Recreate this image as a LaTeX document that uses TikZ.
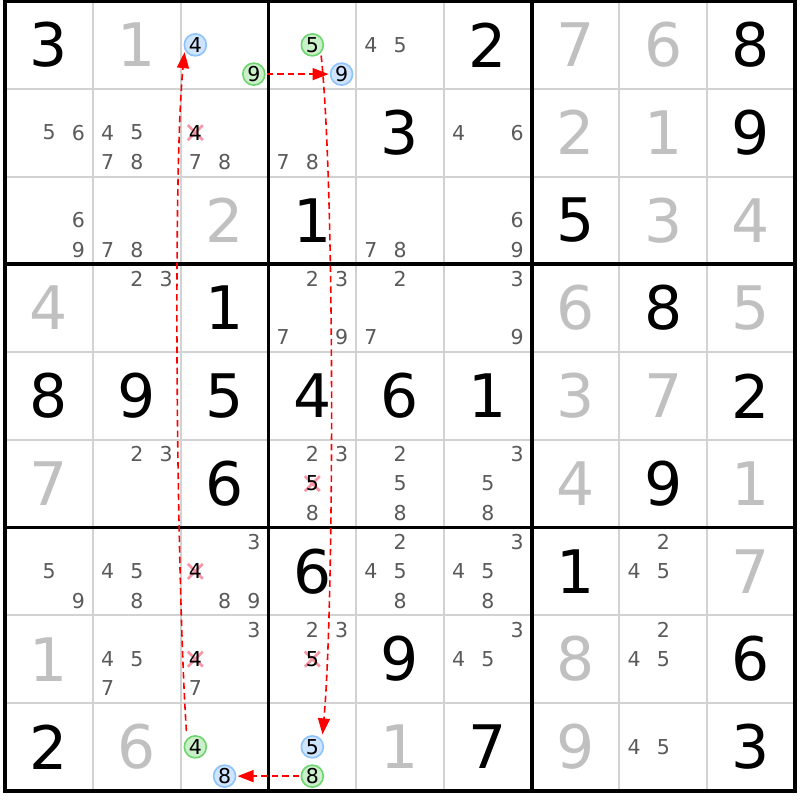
\documentclass[tikz,border=0pt]{standalone}
\usepackage{fontspec}
\setmainfont{DejaVu Sans}
\usetikzlibrary{arrows.meta,calc}
\definecolor{solvedgray}{RGB}{192,192,192}
\definecolor{candgray}{RGB}{90,90,90}
\definecolor{thingrid}{RGB}{210,210,210}
\definecolor{xpink}{RGB}{248,150,165}
\definecolor{bluefill}{RGB}{206,228,255}
\definecolor{bluedraw}{RGB}{140,195,250}
\definecolor{greenfill}{RGB}{202,240,202}
\definecolor{greendraw}{RGB}{110,212,110}
\tikzset{
  given/.style={inner sep=0pt, font=\fontsize{60}{60}\selectfont, text=black},
  solved/.style={inner sep=0pt, font=\fontsize{60}{60}\selectfont, text=solvedgray},
  cand/.style={inner sep=0pt, font=\fontsize{20.5}{20.5}\selectfont, text=candgray},
  elim/.style={inner sep=0pt, font=\fontsize{20.5}{20.5}\selectfont, text=black},
  circb/.style={circle, minimum size=22pt, inner sep=0pt, outer sep=2pt, line width=1.6pt, draw=bluedraw, fill=bluefill, font=\fontsize{20.5}{20.5}\selectfont, text=black},
  circg/.style={circle, minimum size=22pt, inner sep=0pt, outer sep=2pt, line width=1.6pt, draw=greendraw, fill=greenfill, font=\fontsize{20.5}{20.5}\selectfont, text=black},
  link/.style={red, line width=1.6pt, dash pattern=on 6.5pt off 4pt, -{Triangle[length=16pt,width=12pt]}},
  crossmark/.style={xpink, line width=2.6pt}
}
\begin{document}
\begin{tikzpicture}[x=1pt,y=-1pt]
\def\X{5.2}\def\Y{1}\def\S{87.75}
\path[use as bounding box, fill=white] (0,0) rectangle (800,800);
% thin grid
\foreach \i in {1,2,4,5,7,8}{
  \draw[thingrid, line width=2pt] ({\X+\i*\S},{\Y}) -- ({\X+\i*\S},{\Y+9*\S});
  \draw[thingrid, line width=2pt] ({\X},{\Y+\i*\S}) -- ({\X+9*\S},{\Y+\i*\S});
}
% thick grid
\foreach \i in {0,3,6,9}{
  \draw[black, line width=3.8pt] ({\X+\i*\S},{\Y-2}) -- ({\X+\i*\S},{\Y+9*\S+2});
  \draw[black, line width=3.8pt] ({\X-2},{\Y+\i*\S}) -- ({\X+9*\S+2},{\Y+\i*\S});
}
% given digits
\foreach \r/\c/\d in {0/0/3,0/5/2,0/8/8,1/4/3,1/8/9,2/3/1,2/6/5,3/2/1,3/7/8,
  4/0/8,4/1/9,4/2/5,4/3/4,4/4/6,4/5/1,4/8/2,5/2/6,5/7/9,6/3/6,6/6/1,7/4/9,7/8/6,
  8/0/2,8/5/7,8/8/3}{
  \node[given] (g-\r-\c) at ({\X+(\c+0.5)*\S},{\Y+(\r+0.5)*\S}) {\d};
}
% solved digits
\foreach \r/\c/\d in {0/1/1,0/6/7,0/7/6,1/6/2,1/7/1,2/2/2,2/7/3,2/8/4,3/0/4,3/6/6,3/8/5,
  4/6/3,4/7/7,5/0/7,5/6/4,5/8/1,6/8/7,7/0/1,7/6/8,8/1/6,8/4/1,8/6/9}{
  \node[solved] (s-\r-\c) at ({\X+(\c+0.5)*\S},{\Y+(\r+0.5)*\S}) {\d};
}
% candidates
\foreach \r/\c/\ds in {0/4/{4,5},1/0/{5,6},1/1/{4,5,7,8},1/2/{7,8},1/3/{7,8},1/5/{4,6},
  2/0/{6,9},2/1/{7,8},2/4/{7,8},2/5/{6,9},3/1/{2,3},3/3/{2,3,7,9},3/4/{2,7},3/5/{3,9},
  5/1/{2,3},5/3/{2,3,8},5/4/{2,5,8},5/5/{3,5,8},6/0/{5,9},6/1/{4,5,8},6/2/{3,8,9},
  6/4/{2,4,5,8},6/5/{3,4,5,8},6/7/{2,4,5},7/1/{4,5,7},7/2/{3,7},7/3/{2,3},7/5/{3,4,5},
  7/7/{2,4,5},8/7/{4,5}}{
  \foreach \k in \ds {
    \pgfmathtruncatemacro\kr{div(\k-1,3)}
    \pgfmathtruncatemacro\kc{mod(\k-1,3)}
    \node[cand] (c-\r-\c-\k) at ({\X+\c*\S+(2*\kc+1)*\S/6},{\Y+\r*\S+(2*\kr+1)*\S/6}) {\k};
  }
}
% eliminated candidates
\foreach \r/\c/\k in {1/2/4,5/3/5,6/2/4,7/2/4,7/3/5}{
  \pgfmathtruncatemacro\kr{div(\k-1,3)}
  \pgfmathtruncatemacro\kc{mod(\k-1,3)}
  \coordinate (e-\r-\c) at ({\X+\c*\S+(2*\kc+1)*\S/6},{\Y+\r*\S+(2*\kr+1)*\S/6});
  \draw[crossmark] ($(e-\r-\c)+(-7.5,-7.5)$) -- ($(e-\r-\c)+(7.5,7.5)$);
  \draw[crossmark] ($(e-\r-\c)+(-7.5,7.5)$) -- ($(e-\r-\c)+(7.5,-7.5)$);
  \node[elim] (x-\r-\c-\k) at (e-\r-\c) {\k};
}
% circled candidates
\foreach \r/\c/\k/\st in {0/2/4/circb,0/2/9/circg,0/3/5/circg,0/3/9/circb,
  8/2/4/circg,8/2/8/circb,8/3/5/circb,8/3/8/circg}{
  \pgfmathtruncatemacro\kr{div(\k-1,3)}
  \pgfmathtruncatemacro\kc{mod(\k-1,3)}
  \node[\st] (o-\r-\c-\k) at ({\X+\c*\S+(2*\kc+1)*\S/6},{\Y+\r*\S+(2*\kr+1)*\S/6}) {\k};
}
% links
\draw[link, shorten <=6pt] (o-8-2-4.131) .. controls +(-10,-150) and +(-12,120) .. (o-0-2-4.214);
\draw[link] (o-0-2-9.east) -- (o-0-3-9.west);
\draw[link, shorten <=1pt, shorten >=4pt] (o-0-3-5.-48) .. controls +(14,130) and +(12,-130) .. (o-8-3-5.41);
\draw[link] (o-8-3-8.west) -- (o-8-2-8.east);
\end{tikzpicture}
\end{document}
